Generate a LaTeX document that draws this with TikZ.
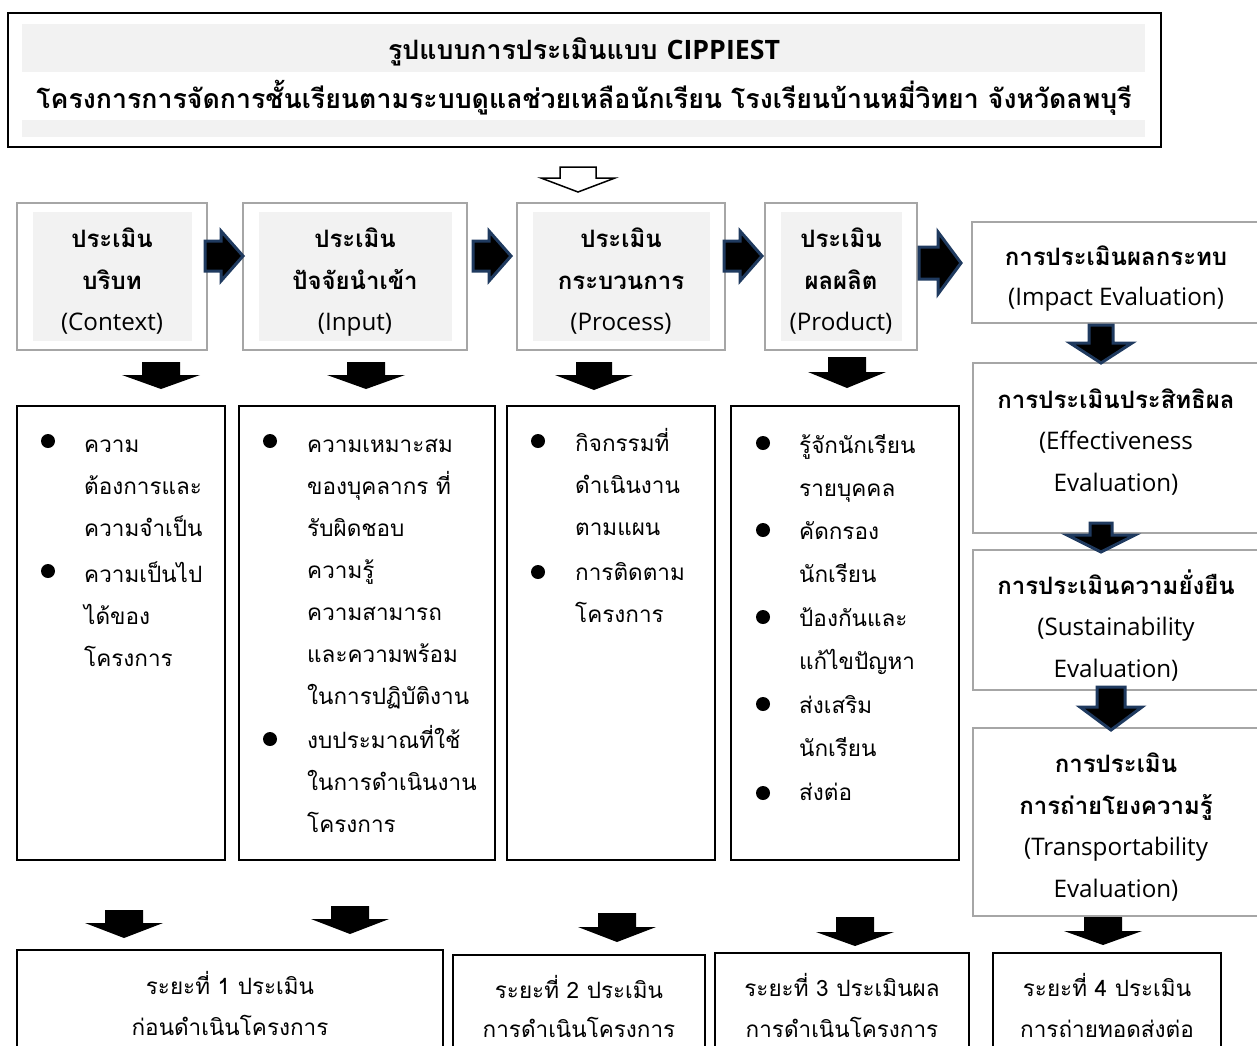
\documentclass[tikz,border=0pt]{standalone}
\usepackage{fontspec}
\newfontfamily\thai[Script=Thai]{Loma}
\newfontfamily\lat{Open Sans}
\definecolor{boxgray}{HTML}{A6A6A6}
\definecolor{fillgray}{HTML}{F2F2F2}
\definecolor{navy}{HTML}{1F3A5F}
\tikzset{
  th/.style={font=\thai\fontsize{22.5}{26}\selectfont, inner sep=0pt, anchor=base},
  thb/.style={font=\thai\bfseries\fontsize{24}{28}\selectfont, inner sep=0pt, anchor=base},
  ttl/.style={font=\thai\bfseries\fontsize{26.7}{30}\selectfont, inner sep=0pt, anchor=base},
  en/.style={font=\lat\fontsize{24.2}{28}\selectfont, inner sep=0pt, anchor=base},
  bl/.style={th, anchor=base west},
  dot/.style={circle, fill=black, inner sep=0pt, minimum size=14pt},
  grayframe/.style={draw=boxgray, line width=1.2pt, fill=white, inner sep=0pt},
  blackframe/.style={draw=black, line width=2pt, fill=white, inner sep=0pt},
  innerfill/.style={fill=fillgray},
  navyarrow/.style={draw=navy, line width=3pt, fill=black, line join=miter},
  blackarrow/.style={fill=black},
  pics/darr/.style n args={4}{code={
    \path[pic actions] (-#1,0) -- (#1,0) -- (#1,#3) -- (#2,#3) -- (0,{#3+#4}) -- (-#2,#3) -- (-#1,#3) -- cycle;}},
  pics/rarr/.style n args={4}{code={
    \path[pic actions] (0,-#1) -- (#3,-#1) -- (#3,-#2) -- ({#3+#4},0) -- (#3,#2) -- (#3,#1) -- (0,#1) -- cycle;}},
}
\begin{document}
\begin{tikzpicture}[x=1pt,y=-1pt]
\useasboundingbox (0,0) rectangle (1257,1045);
\clip (0,0) rectangle (1257,1045);
% title
\node[blackframe, minimum width=1153pt, minimum height=134pt] (title) at (584.5,80) {};
\fill[innerfill] (22,24) rectangle (1145,72);
\fill[innerfill] (22,120) rectangle (1145,137);
\node[ttl] (t1) at (584,59) {รูปแบบการประเมินแบบ {\lat CIPPIEST}};
\node[ttl] (t2) at (584,108) {โครงการการจัดการชั้นเรียนตามระบบดูแลช่วยเหลือนักเรียน โรงเรียนบ้านหมี่วิทยา จังหวัดลพบุรี};
\pic[draw=black, fill=white, line width=1.5pt] (open) at (578,167) {darr={18}{37}{11}{14}};
% top row
\node[grayframe, minimum width=190pt, minimum height=147pt] (ctx) at (112,276.5) {};
\fill[innerfill] (33,212) rectangle (192,341);
\node[grayframe, minimum width=224pt, minimum height=147pt] (inp) at (355,276.5) {};
\fill[innerfill] (259,212) rectangle (452,341);
\node[grayframe, minimum width=208pt, minimum height=147pt] (proc) at (621,276.5) {};
\fill[innerfill] (533,212) rectangle (710,341);
\node[grayframe, minimum width=152pt, minimum height=147pt] (prod) at (841,276.5) {};
\fill[innerfill] (781,212) rectangle (902,341);
\node[thb] (ctx1) at (112,247) {ประเมิน};
\node[thb] (ctx2) at (112,289) {บริบท};
\node[en] (ctx3) at (112,330) {(Context)};
\node[thb] (inp1) at (355,247) {ประเมิน};
\node[thb] (inp2) at (355,289) {ปัจจัยนำเข้า};
\node[en] (inp3) at (355,330) {(Input)};
\node[thb] (proc1) at (621,247) {ประเมิน};
\node[thb] (proc2) at (621,289) {กระบวนการ};
\node[en] (proc3) at (621,330) {(Process)};
\node[thb] (prod1) at (841,247) {ประเมิน};
\node[thb] (prod2) at (841,289) {ผลผลิต};
\node[en] (prod3) at (841,330) {(Product)};
% right arrows
\pic[navyarrow] (r1) at (205,256) {rarr={15}{25}{16}{22}};
\pic[navyarrow] (r2) at (473,256) {rarr={15}{25}{16}{22}};
\pic[navyarrow] (r3) at (724,256) {rarr={15}{25}{16}{22}};
\pic[navyarrow] (r4) at (919,263) {rarr={16}{31}{19}{23}};
% right column
\node[grayframe, minimum width=290pt, minimum height=101pt] (imp) at (1117,272.5) {};
\node[thb] (imp1) at (1116,265) {การประเมินผลกระทบ};
\node[en] (imp2) at (1116,305) {(Impact Evaluation)};
\node[grayframe, minimum width=289pt, minimum height=170pt] (eff) at (1117.5,448) {};
\node[thb] (eff1) at (1116,408) {การประเมินประสิทธิผล};
\node[en] (eff2) at (1116,449) {(Effectiveness};
\node[en] (eff3) at (1116,491) {Evaluation)};
\node[grayframe, minimum width=289pt, minimum height=140pt] (sus) at (1117.5,620) {};
\node[thb] (sus1) at (1116,594) {การประเมินความยั่งยืน};
\node[en] (sus2) at (1116,635) {(Sustainability};
\node[en] (sus3) at (1116,677) {Evaluation)};
\node[grayframe, minimum width=289pt, minimum height=188pt] (tra) at (1117.5,822) {};
\node[thb] (tra1) at (1116,772) {การประเมิน};
\node[thb] (tra2) at (1116,814) {การถ่ายโยงความรู้};
\node[en] (tra3) at (1116,855) {(Transportability};
\node[en] (tra4) at (1116,897) {Evaluation)};
\pic[navyarrow] (d1) at (1101,325) {darr={12}{31}{18}{20}};
\pic[navyarrow] (d2) at (1101,523) {darr={11}{34}{12}{17}};
\pic[navyarrow] (d3) at (1111,687) {darr={14}{31}{20}{23}};
% down arrows under top row
\pic[blackarrow] (k1) at (161,362) {darr={19}{39}{13}{14}};
\pic[blackarrow] (k2) at (366,362) {darr={19}{39}{13}{14}};
\pic[blackarrow] (k3) at (594,362) {darr={18}{39}{13}{15}};
\pic[blackarrow] (k4) at (847,357) {darr={19}{39}{15}{16}};
% bullet boxes
\node[blackframe, minimum width=208pt, minimum height=454pt] (bx1) at (121,633) {};
\node[blackframe, minimum width=256pt, minimum height=454pt] (bx2) at (367,633) {};
\node[blackframe, minimum width=208pt, minimum height=454pt] (bx3) at (611,633) {};
\node[blackframe, minimum width=228pt, minimum height=454pt] (bx4) at (845,633) {};
% box 1
\node[dot] (d11) at (48,441) {};
\node[dot] (d12) at (48,571) {};
\foreach \y/\t [count=\i] in {452/ความ, 494/ต้องการและ, 536/ความจำเป็น, 582/ความเป็นไป, 624/ได้ของ, 666/โครงการ}
  \node[bl] (a\i) at (84,\y) {\t};
% box 2
\node[dot] (d21) at (270,441) {};
\node[dot] (d22) at (270,739) {};
\foreach \y/\t [count=\i] in {452/ความเหมาะสม, 494/ของบุคลากร ที่, 536/รับผิดชอบ, 578/ความรู้, 620/ความสามารถ, 662/และความพร้อม, 704/ในการปฏิบัติงาน, 748/งบประมาณที่ใช้, 790/ในการดำเนินงาน, 832/โครงการ}
  \node[bl] (b\i) at (307,\y) {\t};
% box 3
\node[dot] (d31) at (538,441) {};
\node[dot] (d32) at (538,572) {};
\foreach \y/\t [count=\i] in {451/กิจกรรมที่, 493/ดำเนินงาน, 535/ตามแผน, 580/การติดตาม, 622/โครงการ}
  \node[bl] (c\i) at (575,\y) {\t};
% box 4
\node[dot] (d41) at (763,443) {};
\node[dot] (d42) at (763,530) {};
\node[dot] (d43) at (763,617) {};
\node[dot] (d44) at (763,704) {};
\node[dot] (d45) at (763,793) {};
\foreach \y/\t [count=\i] in {453/รู้จักนักเรียน, 496/รายบุคคล, 539/คัดกรอง, 582/นักเรียน, 626/ป้องกันและ, 669/แก้ไขปัญหา, 713/ส่งเสริม, 756/นักเรียน, 800/ส่งต่อ}
  \node[bl] (e\i) at (799,\y) {\t};
% bottom arrows
\pic[blackarrow] (m1) at (124,910) {darr={19}{39}{13}{15}};
\pic[blackarrow] (m2) at (350,906) {darr={19}{39}{13}{15}};
\pic[blackarrow] (m3) at (617,913) {darr={19}{39}{14}{15}};
\pic[blackarrow] (m4) at (855,917) {darr={19}{39}{15}{14}};
\pic[blackarrow] (m5) at (1103,917) {darr={19}{39}{14}{14}};
% bottom boxes
\node[blackframe, minimum width=426pt, minimum height=110pt] (p1) at (230,1005) {};
\node[blackframe, minimum width=252pt, minimum height=110pt] (p2) at (579,1010) {};
\node[blackframe, minimum width=254pt, minimum height=110pt] (p3) at (842,1008) {};
\node[blackframe, minimum width=228pt, minimum height=110pt] (p4) at (1107,1008) {};
\node[th] (p1a) at (230,994) {ระยะที่ 1 ประเมิน};
\node[th] (p1b) at (230,1035) {ก่อนดำเนินโครงการ};
\node[th] (p2a) at (579,998) {ระยะที่ 2 ประเมิน};
\node[th] (p2b) at (579,1037) {การดำเนินโครงการ};
\node[th] (p3a) at (842,996) {ระยะที่ 3 ประเมินผล};
\node[th] (p3b) at (842,1037) {การดำเนินโครงการ};
\node[th] (p4a) at (1107,996) {ระยะที่ 4 ประเมิน};
\node[th] (p4b) at (1107,1037) {การถ่ายทอดส่งต่อ};
\end{tikzpicture}
\end{document}
